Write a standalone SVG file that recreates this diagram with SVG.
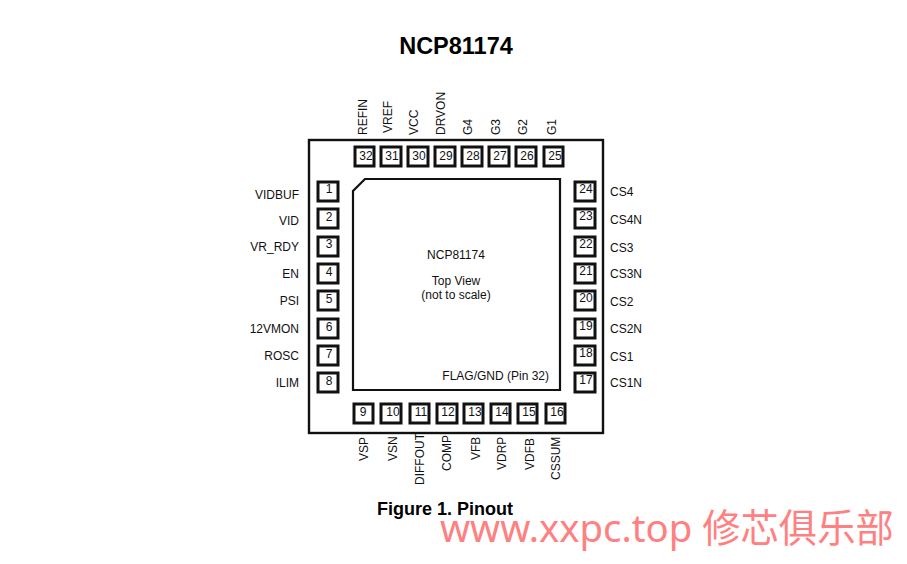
<svg xmlns="http://www.w3.org/2000/svg" width="907" height="564" viewBox="0 0 907 564">
<style>
text{font-family:"Liberation Sans",Arial,sans-serif;font-size:12px;fill:#111}
.b{fill:#fff;stroke:#111;stroke-width:3}
.n{text-anchor:middle}
.e{text-anchor:end}
</style>
<rect width="907" height="564" fill="#fff"/>
<text x="456" y="54" class="n" style="font-size:23.5px;font-weight:bold;fill:#000">NCP81174</text>
<g id="package"><rect x="309" y="140" width="294" height="293" fill="#fff" stroke="#111" stroke-width="2.4"/></g>
<g id="pad"><path d="M365 179H560V390H353V191Z" fill="#fff" stroke="#111" stroke-width="2.2"/>
<text x="456" y="259" class="n">NCP81174</text><text x="456" y="285" class="n">Top View</text><text x="456" y="298.500" class="n">(not to scale)</text><text x="549" y="380" class="e">FLAG/GND (Pin 32)</text></g>
<g id="pin1"><rect class="b" x="318" y="182" width="20" height="19"/><text x="329" y="193" class="n">1</text><text x="299" y="199" class="e">VIDBUF</text></g>
<g id="pin2"><rect class="b" x="318" y="209" width="20" height="19"/><text x="329" y="221" class="n">2</text><text x="299" y="225" class="e">VID</text></g>
<g id="pin3"><rect class="b" x="318" y="237" width="20" height="19"/><text x="329" y="248" class="n">3</text><text x="299" y="251" class="e">VR_RDY</text></g>
<g id="pin4"><rect class="b" x="318" y="264" width="20" height="19"/><text x="329" y="276" class="n">4</text><text x="299" y="278" class="e">EN</text></g>
<g id="pin5"><rect class="b" x="318" y="291" width="20" height="19"/><text x="329" y="303" class="n">5</text><text x="299" y="305" class="e">PSI</text></g>
<g id="pin6"><rect class="b" x="318" y="319" width="20" height="19"/><text x="329" y="331" class="n">6</text><text x="299" y="333" class="e">12VMON</text></g>
<g id="pin7"><rect class="b" x="318" y="346" width="20" height="19"/><text x="329" y="358" class="n">7</text><text x="299" y="360" class="e">ROSC</text></g>
<g id="pin8"><rect class="b" x="318" y="373" width="20" height="19"/><text x="329" y="385" class="n">8</text><text x="299" y="387" class="e">ILIM</text></g>
<g id="pin24"><rect class="b" x="575" y="182" width="20" height="19"/><text x="586" y="193" class="n">24</text><text x="610" y="196">CS4</text></g>
<g id="pin23"><rect class="b" x="575" y="209" width="20" height="19"/><text x="586" y="220" class="n">23</text><text x="610" y="224">CS4N</text></g>
<g id="pin22"><rect class="b" x="575" y="237" width="20" height="19"/><text x="586" y="248" class="n">22</text><text x="610" y="252">CS3</text></g>
<g id="pin21"><rect class="b" x="575" y="264" width="20" height="19"/><text x="586" y="275" class="n">21</text><text x="610" y="278">CS3N</text></g>
<g id="pin20"><rect class="b" x="575" y="291" width="20" height="19"/><text x="586" y="302" class="n">20</text><text x="610" y="306">CS2</text></g>
<g id="pin19"><rect class="b" x="575" y="319" width="20" height="19"/><text x="586" y="330" class="n">19</text><text x="610" y="333">CS2N</text></g>
<g id="pin18"><rect class="b" x="575" y="346" width="20" height="19"/><text x="586" y="357" class="n">18</text><text x="610" y="361">CS1</text></g>
<g id="pin17"><rect class="b" x="575" y="373" width="20" height="19"/><text x="586" y="384" class="n">17</text><text x="610" y="387">CS1N</text></g>
<g id="pin32"><rect class="b" x="355" y="147" width="19" height="19"/><text x="366" y="160" class="n">32</text><text transform="translate(367 135) rotate(-90)">REFIN</text></g>
<g id="pin31"><rect class="b" x="381" y="147" width="20" height="19"/><text x="392" y="160" class="n">31</text><text transform="translate(392 133) rotate(-90)">VREF</text></g>
<g id="pin30"><rect class="b" x="408" y="147" width="20" height="19"/><text x="419" y="160" class="n">30</text><text transform="translate(418 135) rotate(-90)">VCC</text></g>
<g id="pin29"><rect class="b" x="435" y="147" width="20" height="19"/><text x="446" y="160" class="n">29</text><text transform="translate(445 135) rotate(-90)">DRVON</text></g>
<g id="pin28"><rect class="b" x="462" y="147" width="20" height="19"/><text x="473" y="160" class="n">28</text><text transform="translate(472 135) rotate(-90)">G4</text></g>
<g id="pin27"><rect class="b" x="489" y="147" width="20" height="19"/><text x="500" y="160" class="n">27</text><text transform="translate(500 135) rotate(-90)">G3</text></g>
<g id="pin26"><rect class="b" x="516" y="147" width="20" height="19"/><text x="527" y="160" class="n">26</text><text transform="translate(527 135) rotate(-90)">G2</text></g>
<g id="pin25"><rect class="b" x="544" y="147" width="19" height="19"/><text x="555" y="160" class="n">25</text><text transform="translate(556 135) rotate(-90)">G1</text></g>
<g id="pin9"><rect class="b" x="354" y="404" width="19" height="19"/><text x="363" y="416" class="n">9</text><text transform="translate(368 461) rotate(-90)">VSP</text></g>
<g id="pin10"><rect class="b" x="381" y="404" width="20" height="19"/><text x="393" y="416" class="n">10</text><text transform="translate(397 461) rotate(-90)">VSN</text></g>
<g id="pin11"><rect class="b" x="410" y="404" width="19" height="19"/><text x="421" y="416" class="n">11</text><text transform="translate(424 485) rotate(-90)">DIFFOUT</text></g>
<g id="pin12"><rect class="b" x="437" y="404" width="20" height="19"/><text x="448" y="416" class="n">12</text><text transform="translate(451 471) rotate(-90)">COMP</text></g>
<g id="pin13"><rect class="b" x="464" y="404" width="19" height="19"/><text x="475" y="416" class="n">13</text><text transform="translate(480 460) rotate(-90)">VFB</text></g>
<g id="pin14"><rect class="b" x="491" y="404" width="19" height="19"/><text x="502" y="416" class="n">14</text><text transform="translate(506 470) rotate(-90)">VDRP</text></g>
<g id="pin15"><rect class="b" x="518" y="404" width="19" height="19"/><text x="529" y="416" class="n">15</text><text transform="translate(534 470) rotate(-90)">VDFB</text></g>
<g id="pin16"><rect class="b" x="546" y="404" width="19" height="19"/><text x="557" y="416" class="n">16</text><text transform="translate(560 480) rotate(-90)">CSSUM</text></g>
<g id="connectors"></g>
<text x="445" y="515" class="n" style="font-size:18px;font-weight:bold;fill:#000">Figure 1. Pinout</text>
<text x="440" y="542" style="font-family:'Noto Sans','Noto Sans CJK SC',sans-serif;font-size:38.3px;fill:#ff8080">www.xxpc.top 修芯俱乐部</text>
</svg>
